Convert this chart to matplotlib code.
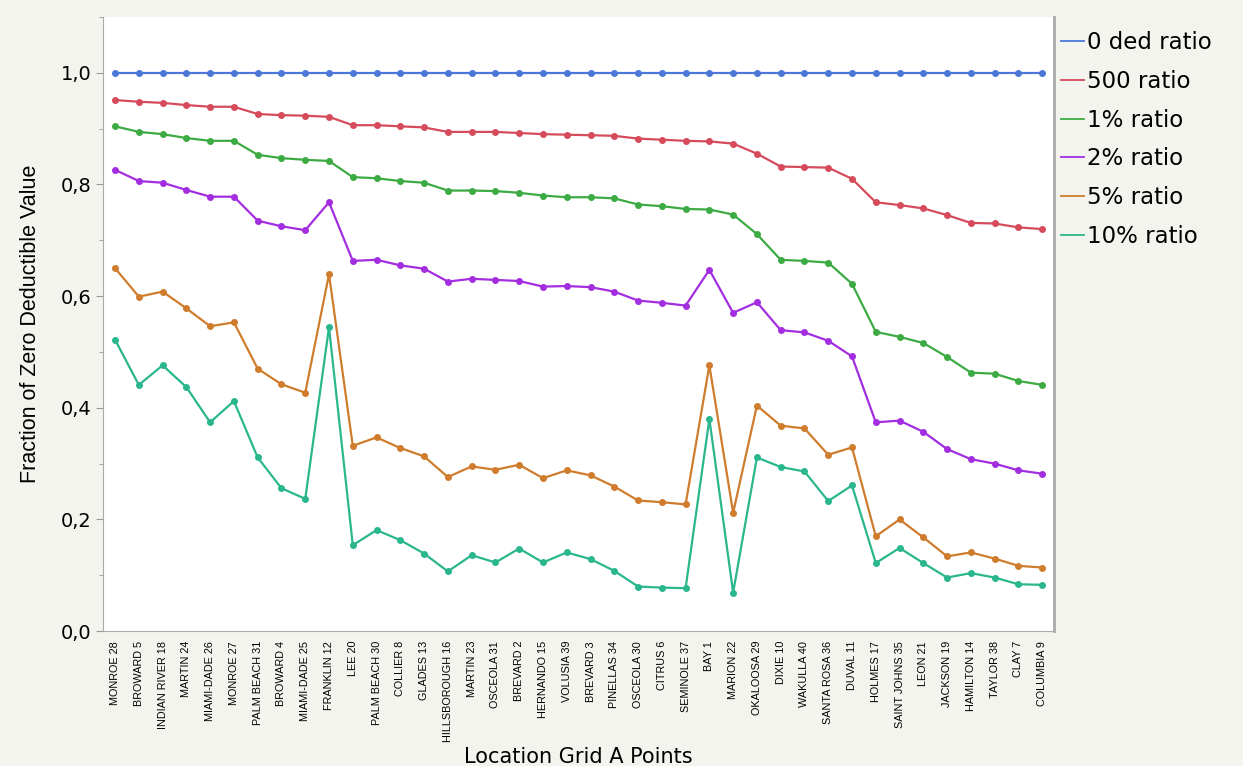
import matplotlib
matplotlib.use("Agg")
from matplotlib import pyplot as plt
from matplotlib.ticker import FuncFormatter, MultipleLocator

locations = ["MONROE 28", "BROWARD 5", "INDIAN RIVER 18", "MARTIN 24", "MIAMI-DADE 26",
             "MONROE 27", "PALM BEACH 31", "BROWARD 4", "MIAMI-DADE 25", "FRANKLIN 12",
             "LEE 20", "PALM BEACH 30", "COLLIER 8", "GLADES 13", "HILLSBOROUGH 16",
             "MARTIN 23", "OSCEOLA 31", "BREVARD 2", "HERNANDO 15", "VOLUSIA 39",
             "BREVARD 3", "PINELLAS 34", "OSCEOLA 30", "CITRUS 6", "SEMINOLE 37",
             "BAY 1", "MARION 22", "OKALOOSA 29", "DIXIE 10", "WAKULLA 40",
             "SANTA ROSA 36", "DUVAL 11", "HOLMES 17", "SAINT JOHNS 35", "LEON 21",
             "JACKSON 19", "HAMILTON 14", "TAYLOR 38", "CLAY 7", "COLUMBIA 9"]

ded_0 = [1.0] * 40
ded_500 = [0.951, 0.948, 0.946, 0.942, 0.939, 0.939, 0.926, 0.924, 0.923, 0.921,
           0.906, 0.906, 0.904, 0.902, 0.894, 0.894, 0.894, 0.892, 0.890, 0.889,
           0.888, 0.887, 0.882, 0.880, 0.878, 0.877, 0.873, 0.855, 0.832, 0.831,
           0.830, 0.810, 0.768, 0.763, 0.757, 0.745, 0.731, 0.730, 0.723, 0.720]
ded_1 = [0.904, 0.894, 0.890, 0.883, 0.878, 0.878, 0.853, 0.847, 0.844, 0.842,
         0.813, 0.811, 0.806, 0.803, 0.789, 0.789, 0.788, 0.785, 0.780, 0.777,
         0.777, 0.775, 0.764, 0.761, 0.756, 0.755, 0.746, 0.711, 0.665, 0.663,
         0.660, 0.622, 0.536, 0.527, 0.516, 0.491, 0.463, 0.461, 0.448, 0.441]
ded_2 = [0.826, 0.806, 0.803, 0.790, 0.778, 0.778, 0.735, 0.725, 0.718, 0.768,
         0.663, 0.665, 0.655, 0.649, 0.626, 0.631, 0.629, 0.627, 0.617, 0.618,
         0.616, 0.608, 0.592, 0.588, 0.583, 0.647, 0.570, 0.589, 0.539, 0.535,
         0.520, 0.492, 0.374, 0.377, 0.357, 0.326, 0.308, 0.300, 0.288, 0.282]
ded_5 = [0.650, 0.599, 0.608, 0.578, 0.546, 0.553, 0.470, 0.442, 0.427, 0.639,
         0.332, 0.347, 0.328, 0.313, 0.276, 0.295, 0.289, 0.298, 0.274, 0.288,
         0.279, 0.259, 0.234, 0.231, 0.227, 0.476, 0.212, 0.404, 0.368, 0.363,
         0.316, 0.329, 0.170, 0.200, 0.168, 0.134, 0.141, 0.130, 0.117, 0.114]
ded_10 = [0.522, 0.441, 0.476, 0.437, 0.374, 0.412, 0.311, 0.256, 0.237, 0.544,
          0.154, 0.181, 0.163, 0.139, 0.107, 0.136, 0.123, 0.148, 0.123, 0.141,
          0.129, 0.108, 0.080, 0.078, 0.077, 0.380, 0.069, 0.311, 0.294, 0.286,
          0.233, 0.261, 0.122, 0.149, 0.122, 0.096, 0.104, 0.096, 0.084, 0.083]

series = [("0 ded ratio", ded_0, "#4b77d9"),
          ("500 ratio", ded_500, "#d64b5b"),
          ("1% ratio", ded_1, "#3dab43"),
          ("2% ratio", ded_2, "#a32ee0"),
          ("5% ratio", ded_5, "#cf7c2d"),
          ("10% ratio", ded_10, "#2ab78d")]

narrow = ["Liberation Sans", "DejaVu Sans"]

fig = plt.figure(figsize=(12.43, 7.66), dpi=100, facecolor="#f4f4ef")
ax = fig.add_axes([0.083, 0.176, 0.765, 0.802])
ax.set_facecolor("white")

x = range(len(locations))
for name, vals, col in series:
    ax.plot(x, vals, color=col, lw=1.6, marker="o", ms=4, label=name)

ax.set_xlim(-0.5, len(locations) - 0.5)
ax.set_ylim(0, 1.1)
ax.yaxis.set_major_locator(MultipleLocator(0.2))
ax.yaxis.set_minor_locator(MultipleLocator(0.1))
ax.yaxis.set_major_formatter(FuncFormatter(lambda v, p: f"{v:.1f}".replace(".", ",")))
ax.tick_params(axis="y", labelsize=14, colors="#999999", labelcolor="black", length=5)
ax.tick_params(axis="y", which="minor", colors="#999999", length=3)
ax.set_xticks(list(x))
ax.set_xticklabels(locations, rotation=90, fontsize=7.8, family=narrow)
ax.tick_params(axis="x", length=0, pad=7)

ax.spines["top"].set_visible(False)
for s in ["left", "bottom", "right"]:
    ax.spines[s].set_color("#aaaaaa")
ax.spines["right"].set_linewidth(2)

ax.set_ylabel("Fraction of Zero Deductible Value", fontsize=15.5, family=narrow, labelpad=14)
fig.text(0.465, 1 - 757 / 766, "Location Grid A Points", fontsize=15,
         ha="center", va="center")

leg = fig.legend(loc="upper left", bbox_to_anchor=(0.846, 0.9715), frameon=False,
                 fontsize=16.5, handlelength=1.0, handletextpad=0.15, labelspacing=0.69,
                 borderaxespad=0)
for h in leg.get_lines():
    h.set_marker("")
    h.set_linewidth(1.3)

fig.savefig("out.png", dpi=100, facecolor=fig.get_facecolor())
